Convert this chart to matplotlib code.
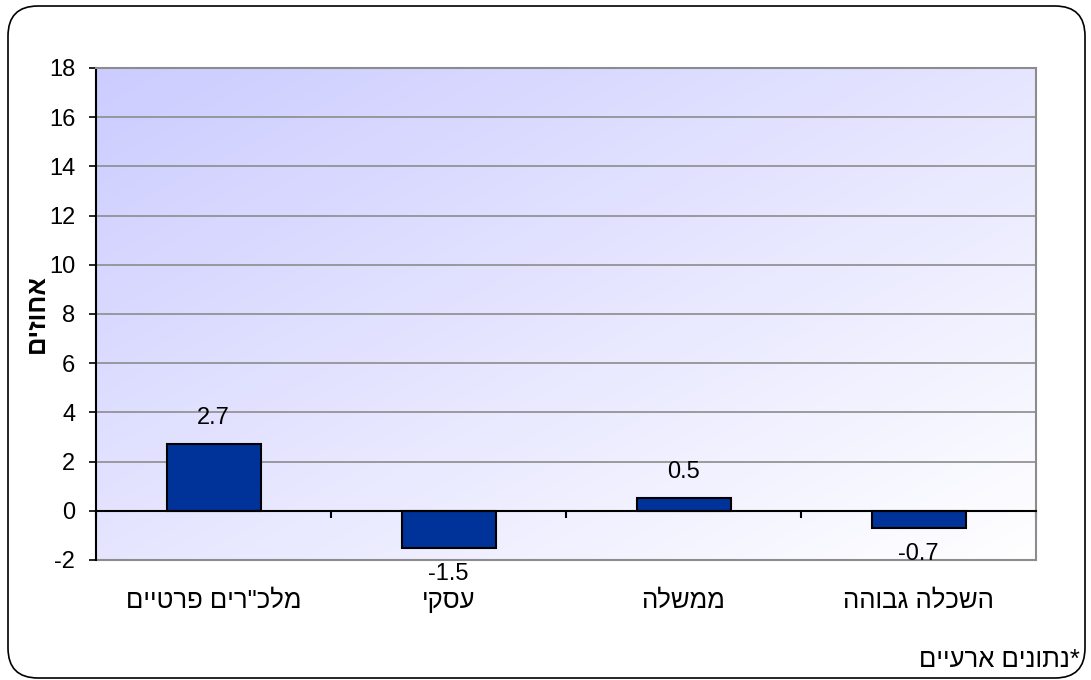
import numpy as np
import matplotlib.pyplot as plt
from matplotlib.patches import FancyBboxPatch
from matplotlib.transforms import IdentityTransform

plt.rcParams['font.family'] = ['Liberation Sans', 'DejaVu Sans']

# נתונים
categories = ['מלכ"רים פרטיים', 'עסקי', 'ממשלה', 'השכלה גבוהה']
values = [2.7, -1.5, 0.5, -0.7]
yLabel = 'אחוזים'
footnote = '*נתונים ארעיים'
yTicks = list(range(-2, 19, 2))


def rtl(text):
    # matplotlib לא מטפל בכיווניות, הופכים ידנית
    return text[::-1]


fig = plt.figure(figsize=(10.91, 6.8), dpi=100)
ax = fig.add_axes([0.088, 0.1765, 0.8616, 0.7235])

# רקע עם מעבר צבע אלכסוני
n = 200
gx, gy = np.meshgrid(np.linspace(0, 1, n), np.linspace(0, 1, n))
t = (gx + gy) / 2
start = np.array([204, 204, 255]) / 255
end = np.array([1.0, 1.0, 1.0])
grad = start[None, None, :] * (1 - t[..., None]) + end[None, None, :] * t[..., None]
ax.imshow(grad, extent=(0, 1, 0, 1), transform=ax.transAxes, aspect='auto',
          zorder=0, origin='upper')

x = np.arange(len(categories))
bars = ax.bar(x, values, width=0.4, color='#003399', edgecolor='black',
              linewidth=1.5, zorder=3)

ax.set_xlim(-0.5, len(categories) - 0.5)
ax.set_ylim(-2, 18)
ax.set_yticks(yTicks)
ax.set_yticklabels([str(v) for v in yTicks])
for v in yTicks[1:]:
    ax.axhline(v, color='#8c8c8c', linewidth=1.2, zorder=1)
ax.axhline(-2, color='#8c8c8c', linewidth=1.5, zorder=1, clip_on=False)

ax.spines['bottom'].set_position(('data', 0))
ax.spines['bottom'].set_color('black')
ax.spines['bottom'].set_linewidth(1.5)
ax.spines['bottom'].set_zorder(4)
ax.spines['left'].set_color('black')
ax.spines['left'].set_linewidth(1.5)
ax.spines['top'].set_color('#8c8c8c')
ax.spines['right'].set_color('#8c8c8c')
ax.spines['top'].set_linewidth(1.5)
ax.spines['right'].set_linewidth(1.5)

ax.set_xticks(x)
ax.set_xticklabels([rtl(c) for c in categories], fontsize=18.5)
ax.set_xticks(np.arange(len(categories) + 1) - 0.5, minor=True)
ax.tick_params(axis='x', which='major', length=0, pad=56)
ax.tick_params(axis='x', which='minor', length=5, width=1.5, direction='out', color='black')
ax.tick_params(axis='y', length=5, width=1.2, labelsize=17, pad=10)

for bar, v in zip(bars, values):
    off = 19 if v >= 0 else -19
    ax.annotate(str(v), (bar.get_x() + bar.get_width() / 2, v),
                xytext=(0, off), textcoords='offset points',
                ha='center', va='center', fontsize=17, zorder=5)

ax.set_ylabel(rtl(yLabel), fontsize=18.5, fontweight='bold', labelpad=0)

fig.text(0.99, 0.03, rtl(footnote), ha='right', va='center', fontsize=18.5)

frame = FancyBboxPatch((8, 2), 1077, 672, boxstyle='round,pad=0,rounding_size=30',
                       transform=IdentityTransform(), fill=False,
                       edgecolor='black', linewidth=1.2)
fig.add_artist(frame)

fig.savefig('out.png', dpi=100)
